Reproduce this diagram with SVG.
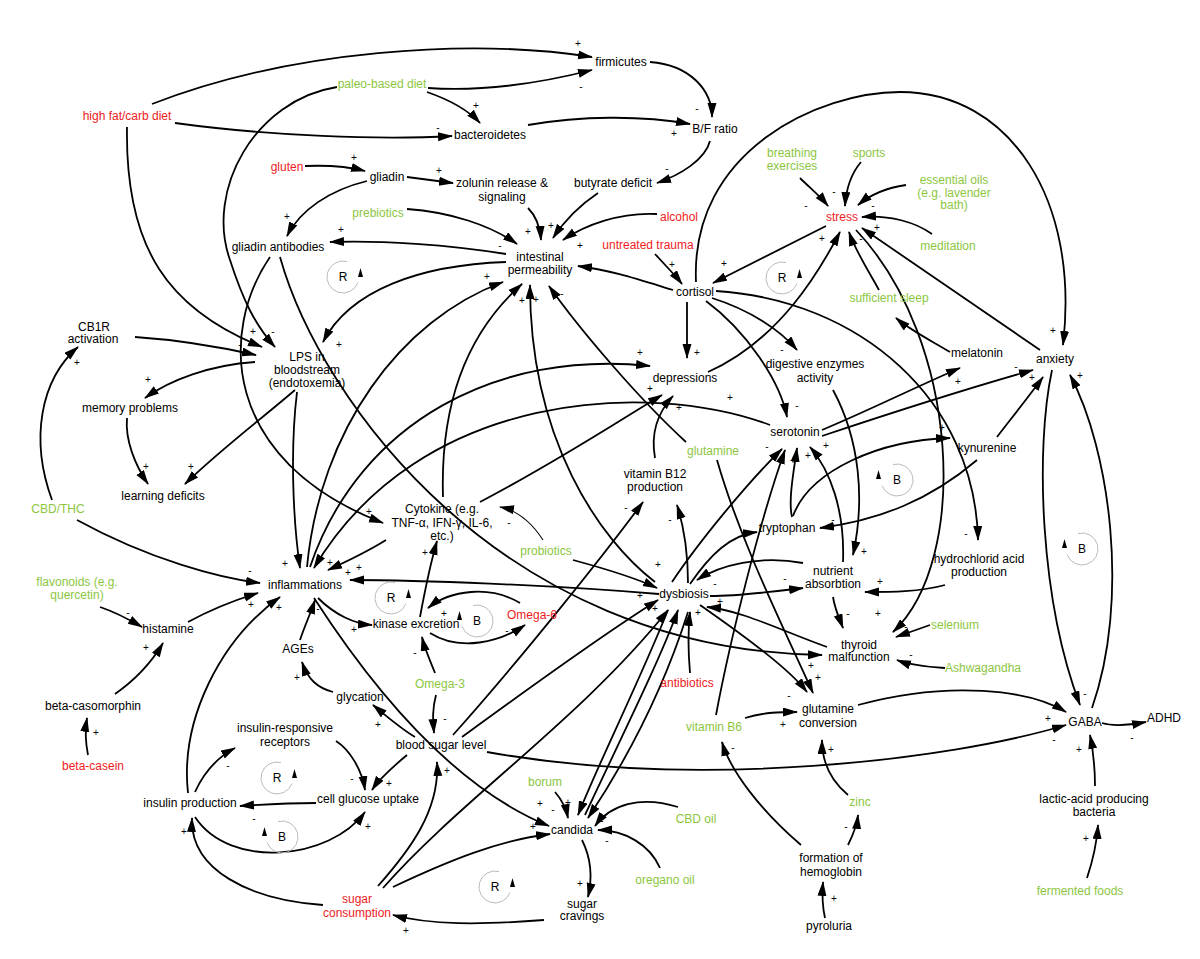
<svg xmlns="http://www.w3.org/2000/svg" width="1200" height="959" viewBox="0 0 1200 959">
<defs>
<marker id="a" markerUnits="userSpaceOnUse" markerWidth="15" markerHeight="10" refX="14" refY="4.5" orient="auto"><path d="M0,0 L15,4.5 L0,9 z" fill="#000"/></marker>
<style>
text{font-family:"Liberation Sans",Arial,sans-serif;font-size:12px;text-anchor:middle;fill:#000}
.g{fill:#8cc63f}
.r{fill:#ed1c24}
.p{font-size:10px;fill:#000}
#conn path{fill:none;stroke:#000;stroke-width:1.8;marker-end:url(#a)}
#conn path.thin{stroke-width:1.1}
.lp path{fill:none;stroke:#bbb;stroke-width:1}
.lp polygon{fill:#000}
</style>
</defs>
<rect width="1200" height="959" fill="#fff"/>
<g id="conn">
<path d="M152,104 C290,50 470,38 592,57"/>
<path d="M428,88 C490,92 545,82 592,70"/>
<path d="M427,92 C450,100 468,110 480,123"/>
<path d="M175,123 C270,136 380,140 452,136"/>
<path d="M127,127 C125,250 170,310 262,347"/>
<path d="M337,87 C255,100 205,190 230,260 C243,300 255,325 275,347"/>
<path d="M135,337 C180,340 220,347 256,355"/>
<path d="M528,125 C580,116 640,115 690,124"/>
<path d="M650,62 C690,65 712,90 712,117"/>
<path d="M710,141 C705,160 680,175 657,183"/>
<path d="M598,193 C580,205 565,220 553,238"/>
<path d="M305,166 C330,165 350,167 365,171"/>
<path d="M407,177 L453,183"/>
<path d="M367,181 C330,190 300,210 287,236"/>
<path d="M528,208 C535,215 540,225 541,240"/>
<path d="M407,209 C450,212 490,225 517,244"/>
<path d="M657,214 C620,212 585,225 563,240"/>
<path d="M506,254 C450,245 380,240 330,242"/>
<path d="M673,290 C640,280 610,270 578,266"/>
<path d="M655,254 C665,265 675,275 682,284"/>
<path d="M506,262 C420,265 350,290 323,342"/>
<path d="M800,178 C810,188 820,196 828,206"/>
<path d="M861,162 C850,175 846,190 845,206"/>
<path d="M906,185 C885,188 870,195 858,205"/>
<path d="M932,234 C915,222 890,215 862,217"/>
<path d="M826,226 L713,283"/>
<path d="M1040,350 L862,228"/>
<path d="M879,290 C868,270 855,250 849,232"/>
<path d="M708,372 C780,340 820,270 840,232"/>
<path d="M950,352 C930,340 910,330 896,318"/>
<path d="M696,282 C690,150 820,92 900,92 C1010,92 1080,200 1063,345"/>
<path d="M687,302 L687,358"/>
<path d="M712,298 C750,310 780,330 797,350"/>
<path d="M706,301 C745,330 780,380 787,417"/>
<path d="M716,291 C860,300 975,400 978,540"/>
<path d="M856,230 C960,340 970,560 893,632"/>
<path d="M822,430 C870,410 920,385 960,368"/>
<path d="M822,436 C900,410 980,385 1033,370"/>
<path d="M997,437 C1010,420 1030,395 1043,377"/>
<path d="M1092,708 C1130,600 1110,450 1070,375"/>
<path d="M1052,370 C1035,450 1040,600 1080,705"/>
<path d="M793,516 C810,470 880,440 950,438"/>
<path d="M977,460 C930,500 880,520 820,528"/>
<path d="M945,585 C920,592 890,592 865,592"/>
<path d="M833,390 C860,440 865,500 853,555"/>
<path d="M843,562 C845,510 830,470 810,447"/>
<path d="M792,517 C788,500 794,470 797,448"/>
<path d="M803,563 C760,555 720,565 697,580"/>
<path d="M710,596 C740,596 770,592 803,588"/>
<path d="M690,584 C710,555 730,535 757,532"/>
<path d="M688,583 C688,560 685,530 677,505"/>
<path d="M655,458 C650,430 660,410 673,396"/>
<path d="M833,597 C835,610 840,620 843,628"/>
<path d="M930,625 L896,637"/>
<path d="M945,668 C930,667 910,665 897,660"/>
<path d="M827,647 C780,630 740,610 707,607"/>
<path d="M700,605 C750,640 790,670 807,692"/>
<path d="M717,460 C740,540 780,620 813,693"/>
<path d="M745,718 C765,712 780,712 797,712"/>
<path d="M848,795 C830,780 822,760 822,740"/>
<path d="M848,845 C853,835 857,825 858,815"/>
<path d="M801,845 C760,810 730,770 722,742"/>
<path d="M825,918 C822,905 822,895 823,882"/>
<path d="M858,705 C950,680 1030,690 1066,712"/>
<path d="M487,752 C700,790 950,760 1066,725"/>
<path d="M1102,723 C1115,727 1130,725 1146,722"/>
<path d="M1095,786 C1095,765 1093,750 1090,735"/>
<path d="M1087,878 C1093,860 1097,840 1098,825"/>
<path d="M686,442 C640,400 580,330 549,286"/>
<path d="M655,582 C600,540 530,440 530,285"/>
<path d="M443,497 C440,400 470,330 522,284"/>
<path d="M307,567 C320,430 400,320 503,282"/>
<path d="M310,567 C360,420 500,350 650,366"/>
<path d="M770,425 C650,380 420,390 314,568"/>
<path d="M480,502 C560,460 620,420 662,395"/>
<path d="M297,392 C290,450 293,520 300,568"/>
<path d="M255,362 C210,365 170,380 145,398"/>
<path d="M295,390 C260,420 220,450 185,484"/>
<path d="M127,418 C125,440 135,465 148,484"/>
<path d="M52,500 C30,440 40,380 78,347"/>
<path d="M77,520 C150,560 220,578 260,583"/>
<path d="M100,607 C115,612 130,620 142,627"/>
<path d="M188,622 C210,610 235,600 258,593"/>
<path d="M115,694 C135,680 150,665 163,643"/>
<path d="M88,755 C85,740 85,730 87,718"/>
<path d="M188,793 C180,720 220,640 280,597"/>
<path d="M386,540 C370,550 350,560 328,570"/>
<path d="M270,257 C220,330 220,460 383,523"/>
<path d="M280,257 C320,400 500,650 822,655"/>
<path class="thin" d="M543,540 C530,520 515,510 500,507"/>
<path d="M573,560 C610,570 640,580 657,588"/>
<path d="M659,594 C550,585 420,580 350,580"/>
<path d="M318,598 C335,615 355,624 372,625"/>
<path d="M420,617 C425,590 430,565 437,541"/>
<path d="M430,633 C460,652 500,642 525,625"/>
<path d="M520,603 C490,585 450,590 428,608"/>
<path d="M435,673 C430,660 425,650 422,637"/>
<path d="M436,695 C432,710 433,720 434,733"/>
<path d="M415,737 C400,728 385,715 373,705"/>
<path d="M333,692 C318,688 308,680 302,662"/>
<path d="M300,640 C305,625 310,615 315,600"/>
<path d="M314,598 C380,700 460,790 549,826"/>
<path d="M407,755 C395,765 380,778 372,790"/>
<path d="M336,741 C350,750 362,770 365,790"/>
<path d="M316,803 C290,803 270,804 240,806"/>
<path d="M195,792 C205,770 218,757 235,748"/>
<path d="M195,817 C230,870 330,860 365,812"/>
<path d="M323,905 C250,900 190,870 192,818"/>
<path d="M378,886 C410,850 440,810 437,762"/>
<path d="M393,887 C450,860 500,840 550,834"/>
<path d="M383,888 C460,800 580,720 668,610"/>
<path d="M582,840 C592,860 592,880 588,897"/>
<path d="M544,920 C480,925 430,925 393,915"/>
<path d="M555,792 C562,800 566,808 568,818"/>
<path d="M678,807 C640,795 610,805 595,826"/>
<path d="M660,868 C650,845 625,830 598,830"/>
<path d="M668,610 C640,680 600,760 578,815"/>
<path d="M585,815 C620,740 660,660 678,610"/>
<path d="M688,612 C660,700 620,770 588,818"/>
<path d="M453,735 C520,660 600,560 643,502"/>
<path d="M462,737 C540,680 610,630 658,600"/>
<path d="M716,715 C730,640 760,520 785,450"/>
<path d="M690,673 C688,650 688,630 690,612"/>
<path d="M672,582 C700,540 750,480 782,449"/>
</g>
<g id="signs">
<text class="p" x="578" y="47">+</text><text class="p" x="581" y="90">-</text><text class="p" x="476" y="109">+</text><text class="p" x="438" y="131">-</text>
<text class="p" x="354" y="161">+</text><text class="p" x="439" y="174">+</text><text class="p" x="341" y="233">+</text><text class="p" x="528" y="235">+</text>
<text class="p" x="551" y="229">+</text><text class="p" x="500" y="249">-</text><text class="p" x="580" y="249">+</text><text class="p" x="487" y="280">+</text>
<text class="p" x="522" y="304">+</text><text class="p" x="536" y="303">+</text><text class="p" x="562" y="297">-</text><text class="p" x="287" y="220">+</text>
<text class="p" x="697" y="112">-</text><text class="p" x="674" y="137">+</text><text class="p" x="667" y="172">-</text><text class="p" x="834" y="195">-</text>
<text class="p" x="806" y="209">-</text><text class="p" x="873" y="209">-</text><text class="p" x="877" y="231">+</text><text class="p" x="822" y="242">+</text>
<text class="p" x="861" y="242">-</text><text class="p" x="672" y="268">+</text><text class="p" x="724" y="267">+</text>
<text class="p" x="253" y="335">+</text><text class="p" x="273" y="335">-</text><text class="p" x="240" y="348">-</text><text class="p" x="77" y="366">+</text>
<text class="p" x="148" y="383">+</text><text class="p" x="146" y="470">+</text><text class="p" x="191" y="470">+</text><text class="p" x="285" y="567">+</text>
<text class="p" x="250" y="574">-</text><text class="p" x="251" y="608">+</text><text class="p" x="279" y="611">+</text><text class="p" x="128" y="616">-</text>
<text class="p" x="339" y="348">+</text><text class="p" x="369" y="515">+</text><text class="p" x="509" y="526">-</text><text class="p" x="425" y="556">+</text>
<text class="p" x="330" y="566">+</text><text class="p" x="359" y="571">+</text><text class="p" x="348" y="576">+</text><text class="p" x="444" y="617">+</text>
<text class="p" x="507" y="634">-</text><text class="p" x="354" y="633">+</text><text class="p" x="318" y="612">-</text>
<text class="p" x="640" y="356">+</text><text class="p" x="697" y="356">+</text><text class="p" x="782" y="353">-</text><text class="p" x="650" y="392">+</text>
<text class="p" x="730" y="401">+</text><text class="p" x="679" y="411">+</text><text class="p" x="797" y="409">-</text><text class="p" x="767" y="450">-</text>
<text class="p" x="826" y="449">+</text><text class="p" x="808" y="459">+</text><text class="p" x="793" y="464">+</text><text class="p" x="626" y="511">-</text>
<text class="p" x="670" y="523">-</text><text class="p" x="833" y="523">-</text><text class="p" x="864" y="555">+</text><text class="p" x="658" y="568">+</text>
<text class="p" x="785" y="582">-</text><text class="p" x="880" y="585">+</text><text class="p" x="715" y="587">-</text><text class="p" x="640" y="599">+</text>
<text class="p" x="720" y="605">+</text><text class="p" x="655" y="612">+</text><text class="p" x="688" y="624">+</text><text class="p" x="698" y="616">+</text>
<text class="p" x="848" y="617">-</text><text class="p" x="878" y="617">+</text>
<text class="p" x="1053" y="334">+</text><text class="p" x="958" y="385">+</text><text class="p" x="1016" y="370">-</text><text class="p" x="1032" y="381">+</text>
<text class="p" x="1080" y="379">+</text><text class="p" x="942" y="431">+</text><text class="p" x="966" y="537">-</text><text class="p" x="906" y="630">-</text>
<text class="p" x="146" y="651">+</text><text class="p" x="96" y="736">+</text><text class="p" x="297" y="681">+</text><text class="p" x="228" y="769">-</text>
<text class="p" x="254" y="822">-</text><text class="p" x="184" y="835">+</text>
<text class="p" x="415" y="656">-</text><text class="p" x="445" y="722">-</text><text class="p" x="378" y="728">+</text><text class="p" x="352" y="782">-</text>
<text class="p" x="389" y="787">+</text><text class="p" x="447" y="774">+</text><text class="p" x="368" y="830">+</text><text class="p" x="540" y="807">+</text>
<text class="p" x="553" y="813">-</text><text class="p" x="568" y="806">+</text><text class="p" x="533" y="830">+</text><text class="p" x="580" y="887">+</text>
<text class="p" x="406" y="934">+</text>
<text class="p" x="811" y="669">+</text><text class="p" x="818" y="681">+</text><text class="p" x="789" y="699">-</text><text class="p" x="783" y="728">+</text>
<text class="p" x="733" y="751">-</text><text class="p" x="831" y="753">+</text><text class="p" x="846" y="830">-</text><text class="p" x="834" y="902">+</text>
<text class="p" x="602" y="824">-</text><text class="p" x="607" y="844">-</text>
<text class="p" x="911" y="658">-</text><text class="p" x="1085" y="697">-</text><text class="p" x="1048" y="722">+</text><text class="p" x="1054" y="743">-</text>
<text class="p" x="1132" y="741">-</text><text class="p" x="1079" y="753">+</text><text class="p" x="1086" y="842">+</text>
</g>
<g class="lp" id="loops">
<g id="loop-r1"><path d="M358,282.5 A16,16 0 1 1 347,261.5"/><polygon points="358,277 363,277 360.5,268"/><text x="343" y="281">R</text></g>
<g id="loop-r2"><path d="M797,283.5 A16,16 0 1 1 786,262.5"/><polygon points="797,278 802,278 799.5,269"/><text x="782" y="282">R</text></g>
<g id="loop-r3"><path d="M406,603.5 A16,16 0 1 1 395,582.5"/><polygon points="406,598 411,598 408.5,589"/><text x="391" y="602">R</text></g>
<g id="loop-b1"><path d="M473,605.5 A16,16 0 1 1 462,626.5"/><polygon points="457,620 462,620 459.5,611"/><text x="477" y="625">B</text></g>
<g id="loop-b2"><path d="M893,464.5 A16,16 0 1 1 882,485.5"/><polygon points="876,479 881,479 878.5,470"/><text x="897" y="484">B</text></g>
<g id="loop-b3"><path d="M1078,533.5 A16,16 0 1 1 1067,554.5"/><polygon points="1062,548 1067,548 1064.5,539"/><text x="1082" y="553">B</text></g>
<g id="loop-r4"><path d="M292,783.5 A16,16 0 1 1 281,762.5"/><polygon points="292,778 297,778 294.5,769"/><text x="277" y="782">R</text></g>
<g id="loop-b4"><path d="M278,821.5 A16,16 0 1 1 267,842.5"/><polygon points="262,836 267,836 264.5,827"/><text x="282" y="841">B</text></g>
<g id="loop-r5"><path d="M510,892.5 A16,16 0 1 1 499,871.5"/><polygon points="510,887 515,887 512.5,878"/><text x="495" y="891">R</text></g>
</g>
<g id="nodes">
<g id="n-firmicutes"><text x="621" y="66">firmicutes</text></g>
<g id="n-paleo"><text class="g" x="382" y="88">paleo-based diet</text></g>
<g id="n-highfat"><text class="r" x="127" y="120">high fat/carb diet</text></g>
<g id="n-bacteroidetes"><text x="490" y="139">bacteroidetes</text></g>
<g id="n-bfratio"><text x="715" y="133">B/F ratio</text></g>
<g id="n-gluten"><text class="r" x="287" y="171">gluten</text></g>
<g id="n-gliadin"><text x="387" y="181">gliadin</text></g>
<g id="n-zolunin"><text x="502" y="187">zolunin release &amp;</text><text x="502" y="201">signaling</text></g>
<g id="n-butyrate"><text x="613" y="187">butyrate deficit</text></g>
<g id="n-prebiotics"><text class="g" x="378" y="217">prebiotics</text></g>
<g id="n-alcohol"><text class="r" x="679" y="221">alcohol</text></g>
<g id="n-gliadinab"><text x="278" y="251">gliadin antibodies</text></g>
<g id="n-intperm"><text x="540" y="261">intestinal</text><text x="540" y="274">permeability</text></g>
<g id="n-trauma"><text class="r" x="648" y="249">untreated trauma</text></g>
<g id="n-breathing"><text class="g" x="792" y="157">breathing</text><text class="g" x="792" y="170">exercises</text></g>
<g id="n-sports"><text class="g" x="869" y="157">sports</text></g>
<g id="n-oils"><text class="g" x="954" y="184">essential oils</text><text class="g" x="954" y="197">(e.g. lavender</text><text class="g" x="954" y="209">bath)</text></g>
<g id="n-stress"><text class="r" x="842" y="221">stress</text></g>
<g id="n-meditation"><text class="g" x="948" y="250">meditation</text></g>
<g id="n-sleep"><text class="g" x="889" y="302">sufficient sleep</text></g>
<g id="n-cortisol"><text x="695" y="296">cortisol</text></g>
<g id="n-cb1r"><text x="94" y="331">CB1R</text><text x="93" y="343">activation</text></g>
<g id="n-lps"><text x="307" y="361">LPS in</text><text x="307" y="374">bloodstream</text><text x="307" y="387">(endotoxemia)</text></g>
<g id="n-melatonin"><text x="977" y="357">melatonin</text></g>
<g id="n-anxiety"><text x="1055" y="363">anxiety</text></g>
<g id="n-memory"><text x="130" y="412">memory problems</text></g>
<g id="n-depressions"><text x="685" y="382">depressions</text></g>
<g id="n-digestive"><text x="815" y="368">digestive enzymes</text><text x="815" y="382">activity</text></g>
<g id="n-serotonin"><text x="795" y="436">serotonin</text></g>
<g id="n-glutamine"><text class="g" x="713" y="455">glutamine</text></g>
<g id="n-kynurenine"><text x="987" y="452">kynurenine</text></g>
<g id="n-learning"><text x="163" y="500">learning deficits</text></g>
<g id="n-cbdthc"><text class="g" x="58" y="513">CBD/THC</text></g>
<g id="n-b12"><text x="655" y="478">vitamin B12</text><text x="655" y="491">production</text></g>
<g id="n-cytokine"><text x="442" y="513">Cytokine (e.g.</text><text x="442" y="527">TNF-α, IFN-γ, IL-6,</text><text x="442" y="540">etc.)</text></g>
<g id="n-probiotics"><text class="g" x="546" y="555">probiotics</text></g>
<g id="n-tryptophan"><text x="787" y="532">tryptophan</text></g>
<g id="n-hcl"><text x="979" y="563">hydrochlorid acid</text><text x="979" y="576">production</text></g>
<g id="n-nutrient"><text x="833" y="575">nutrient</text><text x="833" y="588">absorbtion</text></g>
<g id="n-flavonoids"><text class="g" x="77" y="586">flavonoids (e.g.</text><text class="g" x="77" y="599">quercetin)</text></g>
<g id="n-inflammations"><text x="305" y="589">inflammations</text></g>
<g id="n-dysbiosis"><text x="684" y="598">dysbiosis</text></g>
<g id="n-histamine"><text x="168" y="633">histamine</text></g>
<g id="n-kinase"><text x="416" y="628">kinase excretion</text></g>
<g id="n-omega6"><text class="r" x="532" y="619">Omega-6</text></g>
<g id="n-selenium"><text class="g" x="955" y="629">selenium</text></g>
<g id="n-thyroid"><text x="859" y="649">thyroid</text><text x="859" y="661">malfunction</text></g>
<g id="n-ashwagandha"><text class="g" x="983" y="672">Ashwagandha</text></g>
<g id="n-ages"><text x="298" y="653">AGEs</text></g>
<g id="n-omega3"><text class="g" x="440" y="688">Omega-3</text></g>
<g id="n-glycation"><text x="360" y="701">glycation</text></g>
<g id="n-antibiotics"><text class="r" x="687" y="687">antibiotics</text></g>
<g id="n-casomorphin"><text x="93" y="710">beta-casomorphin</text></g>
<g id="n-b6"><text class="g" x="714" y="731">vitamin B6</text></g>
<g id="n-glutconv"><text x="828" y="713">glutamine</text><text x="828" y="727">conversion</text></g>
<g id="n-gaba"><text x="1085" y="726">GABA</text></g>
<g id="n-adhd"><text x="1164" y="722">ADHD</text></g>
<g id="n-insrec"><text x="285" y="732">insulin-responsive</text><text x="285" y="746">receptors</text></g>
<g id="n-bloodsugar"><text x="441" y="749">blood sugar level</text></g>
<g id="n-casein"><text class="r" x="93" y="770">beta-casein</text></g>
<g id="n-insprod"><text x="190" y="807">insulin production</text></g>
<g id="n-glucose"><text x="368" y="803">cell glucose uptake</text></g>
<g id="n-borum"><text class="g" x="545" y="786">borum</text></g>
<g id="n-candida"><text x="572" y="834">candida</text></g>
<g id="n-cbdoil"><text class="g" x="696" y="823">CBD oil</text></g>
<g id="n-zinc"><text class="g" x="860" y="806">zinc</text></g>
<g id="n-hemoglobin"><text x="831" y="862">formation of</text><text x="831" y="876">hemoglobin</text></g>
<g id="n-oregano"><text class="g" x="665" y="884">oregano oil</text></g>
<g id="n-sugarcons"><text class="r" x="357" y="903">sugar</text><text class="r" x="357" y="917">consumption</text></g>
<g id="n-cravings"><text x="582" y="908">sugar</text><text x="582" y="920">cravings</text></g>
<g id="n-lactic"><text x="1094" y="803">lactic-acid producing</text><text x="1094" y="816">bacteria</text></g>
<g id="n-fermented"><text class="g" x="1080" y="895">fermented foods</text></g>
<g id="n-pyroluria"><text x="829" y="930">pyroluria</text></g>
</g>
</svg>
